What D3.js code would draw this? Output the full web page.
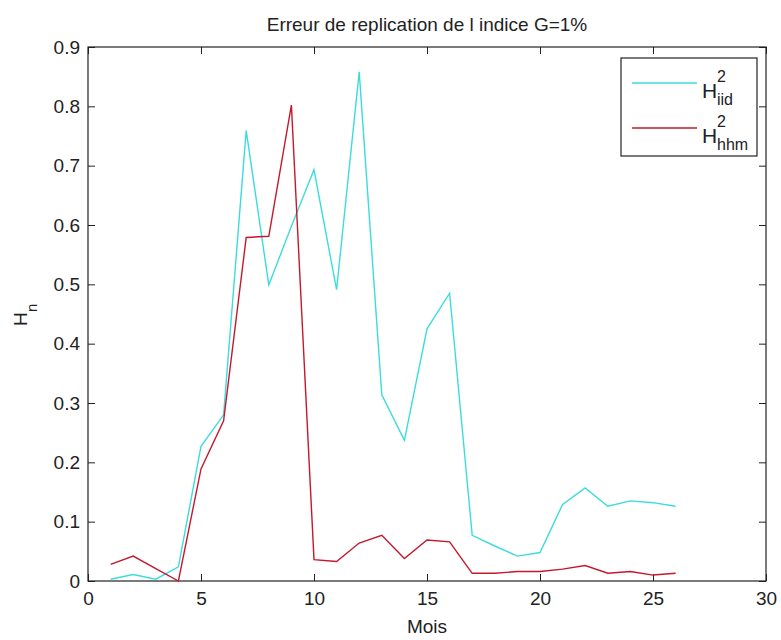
<!DOCTYPE html>
<html>
<head>
<meta charset="utf-8">
<script src="https://cdn.jsdelivr.net/npm/d3@7"></script>
<style>
    body { margin: 0; background: #fff; }
    svg { display: block; font-family: "Liberation Sans", Arial, sans-serif; }
    .tick text { font-size: 19px; fill: #222; }
    .tick line { stroke: #222; }
</style>
</head>
<body>
<svg></svg>
<script>
// Months and values
let months = d3.range(1, 27)
let iid = [0.003, 0.011, 0.003, 0.024, 0.227, 0.280, 0.759, 0.499, 0.598, 0.693,
           0.491, 0.858, 0.314, 0.237, 0.425, 0.485, 0.077, 0.059, 0.042, 0.048,
           0.129, 0.157, 0.126, 0.135, 0.132, 0.126]
let hhm = [0.028, 0.042, 0.021, 0.000, 0.189, 0.270, 0.579, 0.581, 0.802, 0.036,
           0.033, 0.064, 0.077, 0.038, 0.069, 0.066, 0.013, 0.013, 0.016, 0.016,
           0.020, 0.026, 0.013, 0.016, 0.010, 0.013]
let xTicks = [0, 5, 10, 15, 20, 25, 30]
let yTicks = [0, 0.1, 0.2, 0.3, 0.4, 0.5, 0.6, 0.7, 0.8, 0.9]
let yTickLabels = ['0', '0.1', '0.2', '0.3', '0.4', '0.5', '0.6', '0.7', '0.8', '0.9']

let width = 781
let height = 640
let plot = { left: 88, right: 766, top: 47, bottom: 581 }

let svg = d3.select('svg')
            .attr('width', width)
            .attr('height', height)

let scale = {
    x: d3.scaleLinear().domain([0, 30]).range([plot.left, plot.right]),
    y: d3.scaleLinear().domain([0, 0.9]).range([plot.bottom, plot.top])
}

// Axes (ticks point inward, box drawn separately)
svg.append('g')
    .attr('transform', `translate(0,${plot.bottom})`)
    .call(d3.axisBottom(scale.x).tickValues(xTicks).tickFormat(d => d).tickSizeInner(-7).tickSizeOuter(0).tickPadding(10.5))
svg.append('g')
    .attr('transform', `translate(0,${plot.top})`)
    .call(d3.axisTop(scale.x).tickValues(xTicks).tickFormat('').tickSizeInner(-7).tickSizeOuter(0))
svg.append('g')
    .attr('transform', `translate(${plot.left},0)`)
    .call(d3.axisLeft(scale.y).tickValues(yTicks).tickFormat((d, i) => yTickLabels[i]).tickSizeInner(-7).tickSizeOuter(0).tickPadding(8))
svg.append('g')
    .attr('transform', `translate(${plot.right},0)`)
    .call(d3.axisRight(scale.y).tickValues(yTicks).tickFormat('').tickSizeInner(-7).tickSizeOuter(0))
svg.selectAll('.domain').remove()

svg.append('rect')
    .attr('x', plot.left)
    .attr('y', plot.top)
    .attr('width', plot.right - plot.left)
    .attr('height', plot.bottom - plot.top)
    .attr('fill', 'none')
    .attr('stroke', '#222')
    .attr('stroke-width', 1.2)

// Lines
let line = (vals) => d3.line()
    .x((d, i) => scale.x(months[i]))
    .y(d => scale.y(d))(vals)

svg.append('path')
    .attr('d', line(iid))
    .style('fill', 'none')
    .style('stroke', '#3cdcdc')
    .style('stroke-width', 1.4)

svg.append('path')
    .attr('d', line(hhm))
    .style('fill', 'none')
    .style('stroke', '#c4182c')
    .style('stroke-width', 1.4)

// Title
svg.append('text')
    .attr('x', (plot.left + plot.right) / 2)
    .attr('y', 31)
    .attr('text-anchor', 'middle')
    .style('font-size', '19px')
    .style('fill', '#222')
    .text('Erreur de replication de l indice G=1%')

// X label
svg.append('text')
    .attr('x', (plot.left + plot.right) / 2)
    .attr('y', 633)
    .attr('text-anchor', 'middle')
    .style('font-size', '19px')
    .style('fill', '#222')
    .text('Mois')

// Y label
let ylab = svg.append('g').attr('transform', 'translate(27,326) rotate(-90)')
ylab.append('text').attr('x', 0).attr('y', 0).style('font-size', '19px').style('fill', '#222').text('H')
ylab.append('text').attr('x', 14).attr('y', 10).style('font-size', '15px').style('fill', '#222').text('n')

// Legend
let legend = svg.append('g')
legend.append('rect')
    .attr('x', 621)
    .attr('y', 58)
    .attr('width', 136)
    .attr('height', 98)
    .attr('fill', '#fff')
    .attr('stroke', '#222')
    .attr('stroke-width', 1.2)

let entries = [
    { color: '#3cdcdc', sub: 'iid', y: 83 },
    { color: '#c4182c', sub: 'hhm', y: 128 }
]
entries.forEach(e => {
    legend.append('line')
        .attr('x1', 632).attr('x2', 697)
        .attr('y1', e.y).attr('y2', e.y)
        .attr('stroke', e.color)
        .attr('stroke-width', 1.4)
    legend.append('text').attr('x', 702).attr('y', e.y + 15).style('font-size', '21px').style('fill', '#222').text('H')
    legend.append('text').attr('x', 717).attr('y', e.y - 1).style('font-size', '16px').style('fill', '#222').text('2')
    legend.append('text').attr('x', 717).attr('y', e.y + 22).style('font-size', '16px').style('fill', '#222').text(e.sub)
})
</script>
</body>
</html>
